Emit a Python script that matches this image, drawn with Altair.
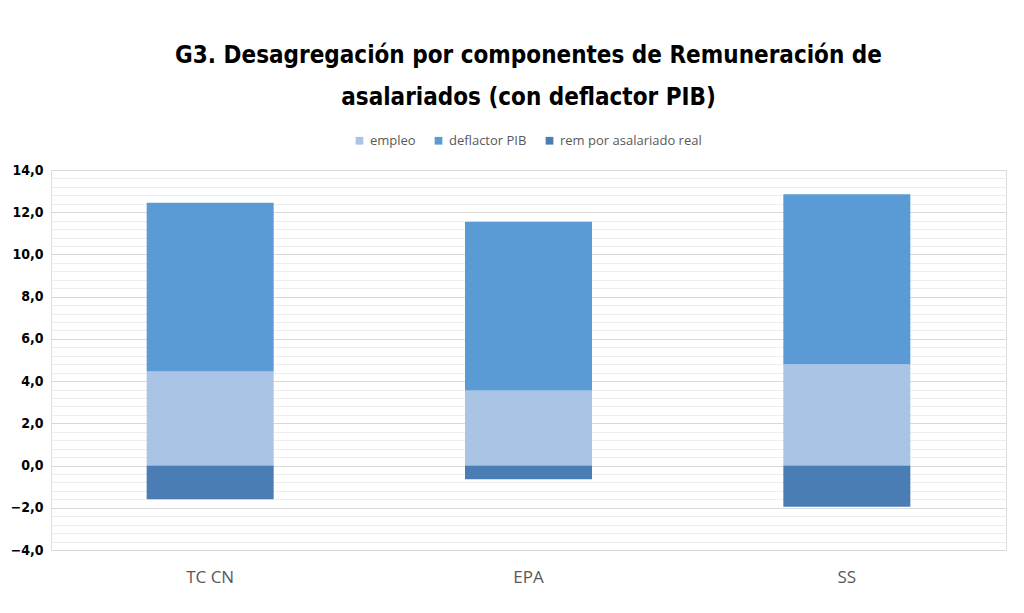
import altair as alt
import pandas as pd

categories = ["TC CN", "EPA", "SS"]
series = ["empleo", "deflactor PIB", "rem por asalariado real"]
empleo = [4.45, 3.55, 4.8]
deflactor = [8.0, 8.0, 8.05]
rem_real = [-1.6, -0.65, -1.95]
colors = ["#A9C4E4", "#5B9BD5", "#4A7DB3"]

rows = []
for i, c in enumerate(categories):
    for j, (s, vals) in enumerate(zip(series, [empleo, deflactor, rem_real])):
        rows.append({"cat": c, "serie": s, "valor": vals[i], "orden": j})
df = pd.DataFrame(rows)

grid_vals = [round(-4 + 0.4 * k, 1) for k in range(46)]
cond_major = "abs(round(datum.value*10) % 20) == 0"

chart = alt.Chart(df).mark_bar(size=127).encode(
    x=alt.X("cat:N", sort=categories, title=None,
            axis=alt.Axis(labelAngle=0, labelFontSize=17, labelColor="#595959",
                          labelFont="Open Sans", domain=False, ticks=False,
                          labelPadding=19)),
    y=alt.Y("valor:Q", stack="zero", title=None,
            scale=alt.Scale(domain=[-4, 14], nice=False),
            axis=alt.Axis(values=grid_vals,
                          labelExpr=cond_major + " ? replace(format(datum.value, '.1f'), '.', ',') : ''",
                          labelFontSize=14, labelFontWeight="bold", labelColor="#000000",
                          labelFont="DejaVu Sans Condensed", labelPadding=8,
                          domain=False, ticks=False,
                          gridColor=alt.condition(cond_major, alt.value("#D9D9D9"), alt.value("#EDEDED")),
                          gridWidth=1)),
    color=alt.Color("serie:N", sort=series,
                    scale=alt.Scale(domain=series, range=colors),
                    legend=alt.Legend(orient="none", legendX=302, legendY=-36, title=None,
                                      symbolType="square", direction="horizontal",
                                      symbolSize=60, labelFontSize=13, labelColor="#595959",
                                      labelFont="Open Sans", columnPadding=16)),
    order=alt.Order("orden:Q"),
).properties(
    width=955, height=380,
    title=alt.Title(["G3. Desagregación por componentes de Remuneración de", "asalariados (con deflactor PIB)"],
                    fontSize=24, font="DejaVu Sans Condensed", fontWeight="bold",
                    color="#000000", lineHeight=42, anchor="middle", offset=24),
).configure_view(stroke=None).configure(padding={"left": 2, "top": 36, "right": 5, "bottom": 5})

chart.save("out.html", embed_options={"renderer": "svg", "actions": False})
